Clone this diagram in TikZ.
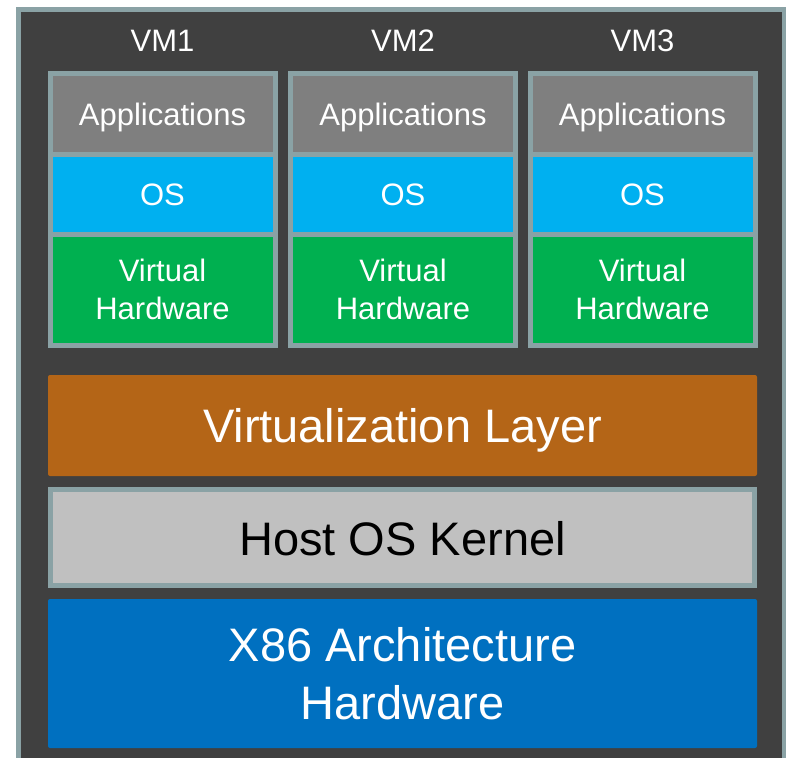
\documentclass[tikz,border=0pt]{standalone}
\usepackage{fontspec}
\setmainfont{Liberation Sans}
\definecolor{darkbg}{HTML}{404040}
\definecolor{rim}{HTML}{8AA2A5}
\definecolor{appgray}{HTML}{7F7F7F}
\definecolor{osblue}{HTML}{00B0F0}
\definecolor{vhgreen}{HTML}{00B050}
\definecolor{virtorange}{HTML}{B46517}
\definecolor{hostgray}{HTML}{C0C0C0}
\definecolor{hwblue}{HTML}{0070C0}
\tikzset{
  cellbase/.style={draw=rim, line width=5pt, inner sep=0pt, text=white, align=center,
    minimum width=225pt, font=\fontsize{31}{38}\selectfont},
  cell/.style={cellbase, text height=22.2pt, text depth=0pt},
  appcell/.style={cell, fill=appgray, minimum height=81pt},
  oscell/.style={cell, fill=osblue, minimum height=80pt},
  vhcell/.style={cellbase, fill=vhgreen, minimum height=110.5pt},
  vmlabel/.style={text=white, inner sep=0pt, font=\fontsize{31}{37}\selectfont,
    text height=22.2pt, text depth=0pt},
  bandbase/.style={inner sep=0pt, align=center, minimum width=709pt,
    font=\fontsize{47}{58}\selectfont},
  bigband/.style={bandbase, text height=33.65pt, text depth=0pt}
}
\begin{document}
\begin{tikzpicture}[x=1pt,y=-1pt]
\useasboundingbox (0,0) rectangle (786,757);
\fill[white] (0,0) rectangle (786,757);
\begin{scope}
\clip (0,0) rectangle (786,757);
\draw[fill=darkbg, draw=rim, line width=5pt] (18.5,9.5) rectangle (784,800);
\end{scope}
% VM labels
\node[vmlabel] (vm1) at (162.5,40.5) {VM1};
\node[vmlabel] (vm2) at (403,40.5) {VM2};
\node[vmlabel] (vm3) at (642.5,40.5) {VM3};
% VM stacks
\foreach \n/\x in {1/162.5,2/403,3/642.5}{
  \node[appcell] (app\n) at (\x,114) {Applications};
  \node[oscell] (os\n) at (\x,194.5) {OS};
  \node[vhcell] (vh\n) at (\x,289.75) {Virtual\\Hardware};
}
% Layers
\node[bigband, fill=virtorange, text=white, rounded corners=2pt, minimum height=101pt] (virt) at (402.5,425.5) {Virtualization Layer};
\node[bigband, fill=hostgray, draw=rim, line width=5pt, text=black, minimum width=704pt, minimum height=96pt, text height=36.65pt] (host) at (402.5,537.5) {Host OS Kernel};
\node[bandbase, fill=hwblue, text=white, rounded corners=2pt, minimum height=149pt] (hw) at (402.5,673.5) {X86 Architecture\\Hardware};
\end{tikzpicture}
\end{document}
